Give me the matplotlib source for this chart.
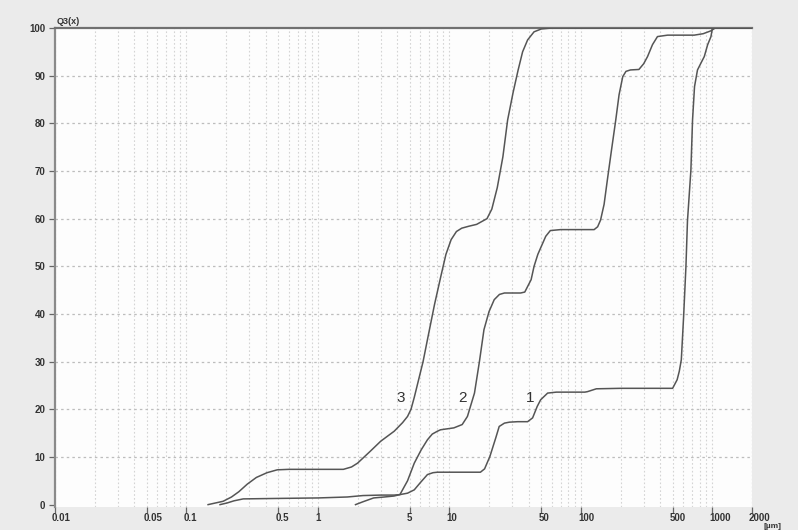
import matplotlib
matplotlib.use("Agg")
import matplotlib.pyplot as plt
from matplotlib.ticker import FixedLocator, NullLocator
import matplotlib.transforms as mtransforms

# ---- data ----
x_ticks = [0.01, 0.05, 0.1, 0.5, 1, 5, 10, 50, 100, 500, 1000, 2000]
x_tick_labels = ["0.01", "0.05", "0.1", "0.5", "1", "5", "10", "50", "100", "500", "1000", "2000"]
y_ticks = [0, 10, 20, 30, 40, 50, 60, 70, 80, 90, 100]
minor_grid_x = [m * d for d in [0.01, 0.1, 1, 10, 100, 1000] for m in range(1, 10) if m * d <= 2000] + [2000]

c1_x = [0.18, 0.204, 0.23, 0.27, 0.5, 1.0, 1.67, 2.2, 3.0, 3.8, 4.2, 4.8, 5.4, 6.0, 6.8, 7.5, 8.1, 12, 17.2,
        18.5, 20.3, 22.5, 23.9, 26.2, 28.6, 33, 39.3, 42.9, 46.5, 49.4, 55.8, 65, 107, 112, 131, 200, 401, 498,
        539, 560, 580, 604, 629, 646, 686, 706, 731, 770, 820, 867, 920, 975, 1000, 2000]
c1_y = [0, 0.35, 0.8, 1.2, 1.3, 1.4, 1.6, 1.9, 2.0, 2.0, 2.1, 2.4, 3.1, 4.6, 6.3, 6.7, 6.8, 6.8, 6.8,
        7.5, 10.1, 14, 16.4, 17.1, 17.3, 17.4, 17.4, 18.2, 20.6, 22, 23.4, 23.6, 23.6, 23.7, 24.3, 24.4, 24.4, 24.4,
        26.2, 28, 30.4, 39.5, 50, 59.5, 70.2, 80.7, 87.7, 91.2, 92.7, 94, 96.5, 98.2, 100, 100]

c2_x = [1.93, 2.2, 2.65, 3.2, 3.78, 4.2, 4.8, 5.4, 6.1, 6.8, 7.4, 8.1, 8.55, 10.8, 12.5, 13.7, 15.5, 16.9,
        18.3, 20, 21.9, 24, 26.2, 34.8, 37.4, 41.8, 44, 47, 50, 54, 58.5, 70, 126, 134, 141, 150, 158.8, 170,
        184, 195, 208, 220, 238, 276, 300, 321, 350, 382, 456, 726, 850, 973, 1050, 2000]
c2_y = [0, 0.6, 1.4, 1.6, 1.8, 2.1, 5, 8.7, 11.5, 13.6, 14.8, 15.4, 15.7, 16.1, 16.8, 18.5, 23.4, 30,
        36.7, 40.5, 43, 44.1, 44.4, 44.4, 44.6, 47.2, 50, 52.5, 54.2, 56.3, 57.5, 57.7, 57.7, 58.3, 59.7, 63, 68.1, 74,
        80.7, 86, 89.8, 90.9, 91.2, 91.3, 92.5, 94, 96.5, 98.2, 98.5, 98.5, 98.8, 99.4, 100, 100]

c3_x = [0.146, 0.19, 0.22, 0.25, 0.29, 0.34, 0.41, 0.49, 0.6, 1.0, 1.56, 1.8, 2.0, 2.5, 3.0, 3.8, 4.4, 4.8,
        5.1, 5.4, 6.3, 6.8, 7.7, 8.6, 9.4, 10.3, 11.3, 12.4, 14, 16.1, 19.3, 21, 23.1, 25.5, 27.7, 30.5, 33.3, 36,
        39.3, 44, 50, 60, 2000]
c3_y = [0, 0.7, 1.6, 2.7, 4.3, 5.7, 6.7, 7.3, 7.4, 7.4, 7.4, 7.9, 8.7, 11.2, 13.3, 15.4, 17.2, 18.5,
        20.0, 22.5, 30, 34.6, 42, 47.9, 52.5, 55.6, 57.3, 58, 58.4, 58.8, 60, 62, 66.5, 73, 80.7, 86.5, 91.2, 95,
        97.5, 99.2, 99.8, 100, 100]

curve_labels = ["1", "2", "3"]
label_x = [44.5, 13.6, 4.6]
label_y = [22.4, 22.4, 22.4]

# ---- drawing ----
W, H = 798, 530
fig = plt.figure(figsize=(W / 100, H / 100), dpi=100, facecolor="#ebebeb")
ax = fig.add_axes([55 / W, 1 - 507 / H, 697 / W, 479 / H])
ax.set_facecolor("#fdfdfd")
ax.set_xscale("log")
ax.set_xlim(0.01, 2000)
ax.set_ylim(-0.5, 100)

for gx in minor_grid_x:
    ax.axvline(gx, color="#d4d4d4", lw=0.8, ls=(0, (1.5, 2)), zorder=1)
for gy in y_ticks[1:-1]:
    ax.axhline(gy, color="#bdbdbd", lw=0.9, ls=(0, (2, 2.5)), zorder=1)

line_color = "#555555"
for xs, ys in [(c1_x, c1_y), (c2_x, c2_y), (c3_x, c3_y)]:
    ax.plot(xs, ys, color=line_color, lw=1.1, zorder=3, clip_on=True, solid_joinstyle="round")

for t, lx, ly in zip(curve_labels, label_x, label_y):
    ax.text(lx, ly, t, fontsize=11, color="#333333", ha="right", va="center",
            family="Liberation Sans", zorder=4)

ax.spines["right"].set_visible(False)
ax.spines["bottom"].set_visible(False)
ax.spines["left"].set_color("#8a8a8a")
ax.spines["left"].set_linewidth(1.6)
ax.spines["top"].set_color("#707070")
ax.spines["top"].set_linewidth(1.6)

ax.xaxis.set_major_locator(FixedLocator(x_ticks))
ax.xaxis.set_minor_locator(NullLocator())
ax.set_xticklabels(x_tick_labels)
ax.yaxis.set_major_locator(FixedLocator(y_ticks))
ax.set_yticklabels([str(v) for v in y_ticks])

ax.tick_params(axis="x", direction="out", length=4, width=0.9, color="#666666", pad=0.5,
               labelsize=7, labelcolor="#333333")
ax.tick_params(axis="y", direction="out", length=4, width=0.9, color="#666666", pad=3,
               labelsize=7, labelcolor="#333333")
offset = mtransforms.ScaledTranslation(-3 / 100, 0, fig.dpi_scale_trans)
for lab in ax.get_xticklabels():
    lab.set_horizontalalignment("left")
    lab.set_transform(lab.get_transform() + offset)
    lab.set_family("Liberation Sans")
    lab.set_fontweight("bold")
for lab in ax.get_yticklabels():
    lab.set_family("Liberation Sans")
    lab.set_fontweight("bold")

fig.text(57 / W, 1 - 21 / H, "Q3(x)", fontsize=6.5, color="#333333", ha="left", va="center",
         family="Liberation Sans", fontweight="bold")
fig.text(763 / W, 1 - 526.5 / H, "[µm]", fontsize=6, color="#333333", ha="left", va="center",
         family="Liberation Sans", fontweight="bold")

fig.savefig("out.png", dpi=100, facecolor=fig.get_facecolor())
